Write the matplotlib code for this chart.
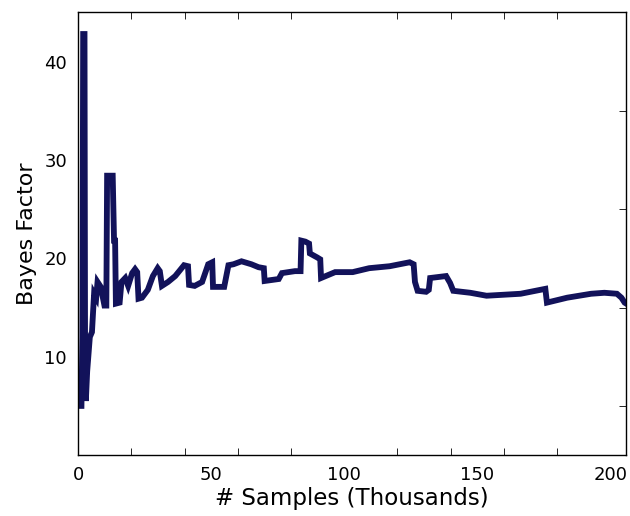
import matplotlib
matplotlib.use("Agg")
import matplotlib.pyplot as plt
from matplotlib.ticker import MultipleLocator

# samples (thousands) and bayes factor
samples = [0.3, 1.25, 1.6, 1.9, 2.4, 2.6, 2.9, 3.4, 4.4, 5.2, 6.0, 6.8, 7.3, 8.5, 9.9,
           10.6, 10.9, 13.0, 13.5, 13.9, 14.2, 15.6, 16.3, 17.7, 18.8, 20.3, 21.4,
           22.2, 22.7, 24.0, 26.2, 28.1, 29.9, 30.7, 31.5, 33.8, 36.5, 39.8, 41.3,
           41.7, 43.8, 46.6, 48.9, 50.4, 50.7, 54.9, 56.5, 58.4, 61.4, 65.1, 67.8,
           69.8, 70.1, 75.4, 76.6, 81.5, 83.6, 83.9, 85.4, 86.8, 87.1, 89.8, 91.0,
           91.3, 96.6, 103.2, 109.4, 117.1, 124.6, 126.1, 126.6, 127.6, 130.8, 131.8,
           132.3, 138.3, 139.8, 141.0, 147.4, 153.5, 159.9, 166.3, 175.6, 176.2,
           183.8, 192.8, 197.8, 202.5, 204.2, 205.4, 206.0]
bayes = [5.0, 5.0, 12.0, 42.8, 42.8, 12.0, 5.5, 8.5, 12.0, 12.5, 16.4, 16.0, 17.6, 17.1, 15.2,
         15.2, 28.4, 28.4, 21.8, 21.8, 15.4, 15.5, 17.6, 18.0, 17.2, 18.5, 18.9,
         18.6, 15.9, 16.0, 16.8, 18.2, 19.0, 18.7, 17.2, 17.6, 18.2, 19.3, 19.2,
         17.3, 17.2, 17.6, 19.4, 19.6, 17.1, 17.1, 19.3, 19.4, 19.7, 19.4, 19.1,
         19.0, 17.7, 17.9, 18.5, 18.7, 18.7, 21.8, 21.7, 21.5, 20.5, 20.1, 19.9,
         18.0, 18.6, 18.6, 19.0, 19.2, 19.6, 19.4, 17.6, 16.7, 16.6, 16.8,
         18.0, 18.2, 17.5, 16.7, 16.5, 16.2, 16.3, 16.4, 16.9, 15.5,
         16.0, 16.4, 16.5, 16.4, 16.0, 15.5, 15.4]

x_labels = [0, 50, 100, 150, 200]
y_labels = [10, 20, 30, 40]

fig = plt.figure(figsize=(6.3, 5.16), dpi=100)
ax = fig.add_axes([0.124, 0.118, 0.87, 0.858])

ax.plot(samples, bayes, color="#12125a", linewidth=4.2, solid_joinstyle="miter")

ax.set_xlim(0, 206)
ax.set_ylim(0, 45)

# labelled ticks carry no marks, small inward marks every 20k / 5
ax.set_xticks(x_labels)
ax.set_yticks(y_labels)
ax.xaxis.set_minor_locator(MultipleLocator(20))
ax.yaxis.set_minor_locator(MultipleLocator(5))
ax.tick_params(which="major", length=0, labelsize=13, pad=8)
ax.tick_params(axis="x", which="minor", direction="in", length=5, top=True, bottom=True)
ax.tick_params(axis="y", which="minor", direction="in", length=5, left=False, right=True)

for s in ax.spines.values():
    s.set_linewidth(1.0)

ax.set_xlabel("# Samples (Thousands)", fontsize=16.5, labelpad=2)
ax.set_ylabel("Bayes Factor", fontsize=16, labelpad=5)

fig.savefig("out.png", dpi=100)
